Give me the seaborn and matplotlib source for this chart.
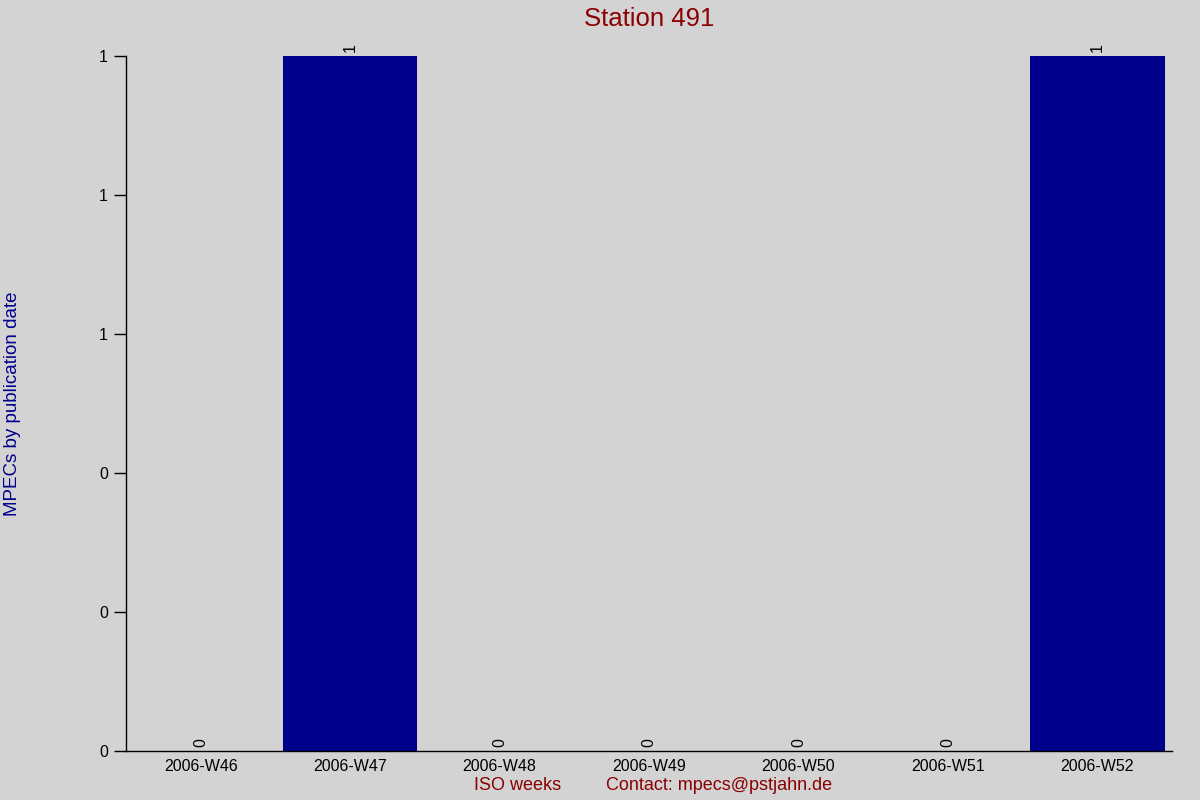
import matplotlib
matplotlib.use("Agg")
import matplotlib.pyplot as plt
import seaborn as sns
import pandas as pd

weeks = ["2006-W46", "2006-W47", "2006-W48", "2006-W49", "2006-W50", "2006-W51", "2006-W52"]
counts = [0, 1, 0, 0, 0, 0, 1]
yticks = [0, 0.2, 0.4, 0.6, 0.8, 1.0]

BG = "#d3d3d3"
BAR = "#00008b"
RED = "#8b0000"

sns.set_style("ticks")
plt.rcParams["font.family"] = ["Liberation Sans", "DejaVu Sans"]

df = pd.DataFrame({"week": weeks, "count": counts})

fig = plt.figure(figsize=(12, 8), dpi=100, facecolor=BG)
ax = fig.add_axes([0.105, 0.06125, 0.8717, 0.86875])
ax.set_facecolor(BG)

sns.barplot(data=df, x="week", y="count", color=BAR, width=0.9, saturation=1,
            linewidth=0, edgecolor=BAR, ax=ax)
ax.bar_label(ax.containers[0], fmt="%d", rotation=90, padding=3, fontsize=11.5, color="black")

ax.set_xlim(-0.5, len(weeks) - 0.5)
ax.set_ylim(0, 1)
ax.set_yticks(yticks)
ax.set_yticklabels([f"{v:.0f}" for v in yticks])
ax.tick_params(axis="y", length=9, width=1, labelsize=11.5, color="black", labelcolor="black", pad=4)
ax.tick_params(axis="x", length=0, labelsize=11.5, labelcolor="black", pad=6)

for s in ["top", "right"]:
    ax.spines[s].set_visible(False)
for s in ["left", "bottom"]:
    ax.spines[s].set_color("black")
    ax.spines[s].set_linewidth(1)

ax.set_xlabel("")
ax.set_ylabel("MPECs by publication date", color=BAR, fontsize=13.5, labelpad=0)
ax.yaxis.set_label_coords(-0.1, 0.5)

fig.text(0.5408, 0.976, "Station 491", ha="center", va="center", color=RED, fontsize=18.5)
fig.text(0.4317, 0.0175, "ISO weeks", ha="center", va="center", color=RED, fontsize=13)
fig.text(0.5992, 0.0175, "Contact: mpecs@pstjahn.de", ha="center", va="center", color=RED, fontsize=13)

fig.savefig("out.png", dpi=100, facecolor=BG)
